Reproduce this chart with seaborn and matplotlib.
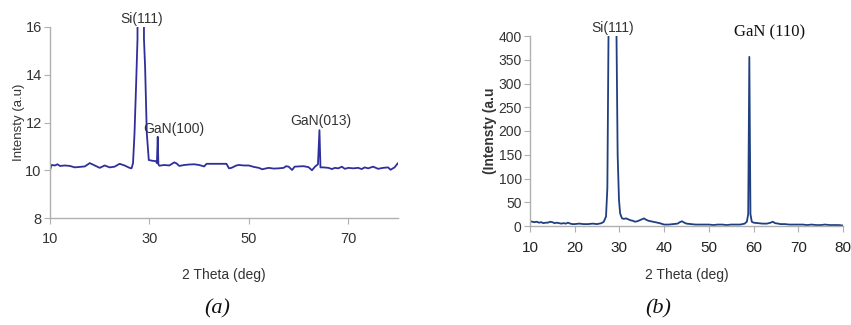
import matplotlib
matplotlib.use("Agg")
import matplotlib.pyplot as plt
import seaborn as sns
import pandas as pd

sns.set_theme(style="white")
plt.rcParams['font.family'] = ['Liberation Sans Narrow', 'Liberation Sans', 'DejaVu Sans']

# ---- panel (a) data ----
theta_a = [10, 10.3, 11, 11.5, 12, 13, 14, 15, 16, 17, 18, 19, 20, 21, 22, 23, 24, 25, 26, 26.4,
           26.7, 27.0, 27.33, 27.6, 28.3, 28.9, 29.13, 29.47, 29.87, 30.5, 31.3, 31.5, 31.67, 31.8, 32.0,
           33, 34, 35.0, 35.5, 36, 37, 38, 39, 40, 41, 41.5, 45.5, 46, 46.5, 47.5, 48, 49, 50, 51, 52,
           52.7, 53.5, 54, 55, 56, 57, 57.5, 58, 58.7, 59.2, 60, 61, 62, 62.7, 63.3, 63.9, 64.2, 64.4,
           65, 66, 66.7, 67.3, 68, 68.7, 69.3, 70, 71, 72, 72.7, 73.3, 74, 75, 76, 77, 78, 78.5, 79.3, 80]
inten_a = [10.0, 10.22, 10.2, 10.25, 10.18, 10.2, 10.18, 10.12, 10.14, 10.16, 10.3, 10.2, 10.1, 10.2,
           10.12, 10.15, 10.27, 10.2, 10.1, 10.08,
           10.3, 11.55, 13.65, 15.5, 250.0, 15.5, 14.33, 11.55, 10.43, 10.4, 10.38, 10.3, 11.4, 10.25, 10.19,
           10.22, 10.2, 10.33, 10.28, 10.18, 10.22, 10.24, 10.25, 10.22, 10.16, 10.27, 10.27, 10.08, 10.1,
           10.2, 10.22, 10.2, 10.2, 10.14, 10.1,
           10.04, 10.08, 10.1, 10.07, 10.08, 10.1, 10.17, 10.15, 10.01, 10.15, 10.16, 10.17, 10.13, 10.0,
           10.15, 10.25, 11.68, 10.12,
           10.12, 10.1, 10.05, 10.1, 10.08, 10.15, 10.06, 10.1, 10.08, 10.1, 10.05, 10.12, 10.08, 10.15,
           10.06, 10.1, 10.12, 10.02, 10.12, 10.3]

# ---- panel (b) data ----
theta_b = [10, 10.5, 11, 11.5, 12, 12.5, 13, 13.5, 14, 14.5, 15, 15.5, 16, 16.5, 17, 17.5, 18, 18.5,
           19, 19.5, 20, 21, 22, 23, 24, 25, 25.5, 26, 26.5, 27.0, 27.3, 27.55, 28.4, 29.35, 29.6, 29.9,
           30.15, 30.4, 30.6, 31, 31.5, 32, 32.5, 33, 33.5, 34, 34.5, 35, 35.5, 36, 36.5, 37, 37.5, 38,
           39, 40, 41, 42, 43, 43.5, 44, 44.5, 45, 46, 47, 48, 49, 50, 51, 52, 53, 54, 55, 56, 57, 57.5,
           58, 58.5, 58.8, 59.05, 59.3, 59.6, 60, 61, 62, 63, 63.8, 64.3, 64.8, 65.5, 66, 67, 68, 69, 70,
           71, 72, 73, 74, 75, 76, 77, 78, 79, 80]
inten_b = [10, 9, 8, 9, 7, 8, 6, 7, 7, 9, 8, 6, 7, 6, 5, 6, 5, 7,
           5, 4, 4, 5, 4, 4, 5, 4, 5, 6, 9, 20, 80, 395, 1200, 395, 150, 55,
           27, 20, 16, 15, 16, 14, 12, 11, 9, 10, 12, 14, 16, 13, 11, 10, 9, 8,
           6, 3, 3, 4, 5, 8, 10, 7, 5, 4, 3, 3, 3, 3, 2, 3, 3, 2, 3, 3, 3, 4,
           5, 9, 25, 356, 25, 9, 7, 6, 5, 5, 7, 9, 6, 5, 4, 4, 3, 3, 3,
           3, 2, 3, 2, 2, 3, 2, 2, 2, 1]

df_a = pd.DataFrame({"theta": theta_a, "intensity": inten_a})
df_b = pd.DataFrame({"theta": theta_b, "intensity": inten_b})

W, H = 851, 325
fig = plt.figure(figsize=(W / 100, H / 100), dpi=100)

def px_axes(l, t, r, b):
    return fig.add_axes([l / W, 1 - b / H, (r - l) / W, (b - t) / H])

spine_col = "#b0b0b0"
text_col = "#333333"

# ---------- (a) ----------
ax1 = px_axes(50, 27, 398, 218)
sns.lineplot(data=df_a, x="theta", y="intensity", ax=ax1, color="#2f2f9c", linewidth=1.3,
             sort=False, estimator=None)
ax1.set_xlim(10, 80)
ax1.set_ylim(8, 16)
ax1.set_xticks([10, 30, 50, 70])
ax1.set_yticks([8, 10, 12, 14, 16])
ax1.set_xlabel("2 Theta (deg)", fontsize=10, color=text_col, labelpad=16)
ax1.set_ylabel("Intensty (a.u)", fontsize=9.5, color=text_col, labelpad=0)
ax1.tick_params(axis="y", labelsize=10.5, colors=text_col, length=4, width=0.8,
                color=spine_col, direction="out", left=True, pad=2)
ax1.tick_params(axis="x", labelsize=10.5, colors=text_col, length=4, width=0.8,
                color=spine_col, direction="out", bottom=True, pad=6)
for s in ["top", "right"]:
    ax1.spines[s].set_visible(False)
for s in ["left", "bottom"]:
    ax1.spines[s].set_color(spine_col)
    ax1.spines[s].set_linewidth(1.0)
ax1.text(28.4, 16.05, "Si(111)", ha="center", va="bottom", fontsize=10, color=text_col)
ax1.text(35, 11.45, "GaN(100)", ha="center", va="bottom", fontsize=10, color=text_col)
ax1.text(64.5, 11.75, "GaN(013)", ha="center", va="bottom", fontsize=10, color=text_col)
fig.text(217 / W, 1 - 309 / H, "(a)", ha="center", va="center", fontsize=16,
         style="italic", family=["Liberation Serif", "DejaVu Serif"], color="#111111")

# ---------- (b) ----------
ax2 = px_axes(530, 36, 843, 226)
sns.lineplot(data=df_b, x="theta", y="intensity", ax=ax2, color="#1f3f7f", linewidth=1.3,
             sort=False, estimator=None)
ax2.set_xlim(10, 80)
ax2.set_ylim(0, 400)
ax2.set_xticks(range(10, 81, 10))
ax2.set_yticks(range(0, 401, 50))
ax2.set_xlabel("2 Theta (deg)", fontsize=10, color=text_col, labelpad=9)
ax2.set_ylabel("(Intensty (a.u", fontsize=10, color=text_col, labelpad=1, fontweight="bold")
ax2.tick_params(axis="x", labelsize=11, colors="#222222", length=4, width=0.8,
                color=spine_col, direction="out", bottom=True, pad=7)
ax2.tick_params(axis="y", labelsize=10, colors=text_col, length=4, width=0.8,
                color=spine_col, direction="out", left=True, pad=2)
for s in ["top", "right"]:
    ax2.spines[s].set_visible(False)
for s in ["left", "bottom"]:
    ax2.spines[s].set_color(spine_col)
    ax2.spines[s].set_linewidth(1.0)
ax2.text(28.4, 403, "Si(111)", ha="center", va="bottom", fontsize=10, color=text_col)
ax2.text(63.6, 390, "GaN (110)", ha="center", va="bottom", fontsize=12, color="#111111",
         family=["Liberation Serif", "DejaVu Serif"])
fig.text(658 / W, 1 - 309 / H, "(b)", ha="center", va="center", fontsize=16,
         style="italic", family=["Liberation Serif", "DejaVu Serif"], color="#111111")

fig.savefig("out.png", dpi=100)
